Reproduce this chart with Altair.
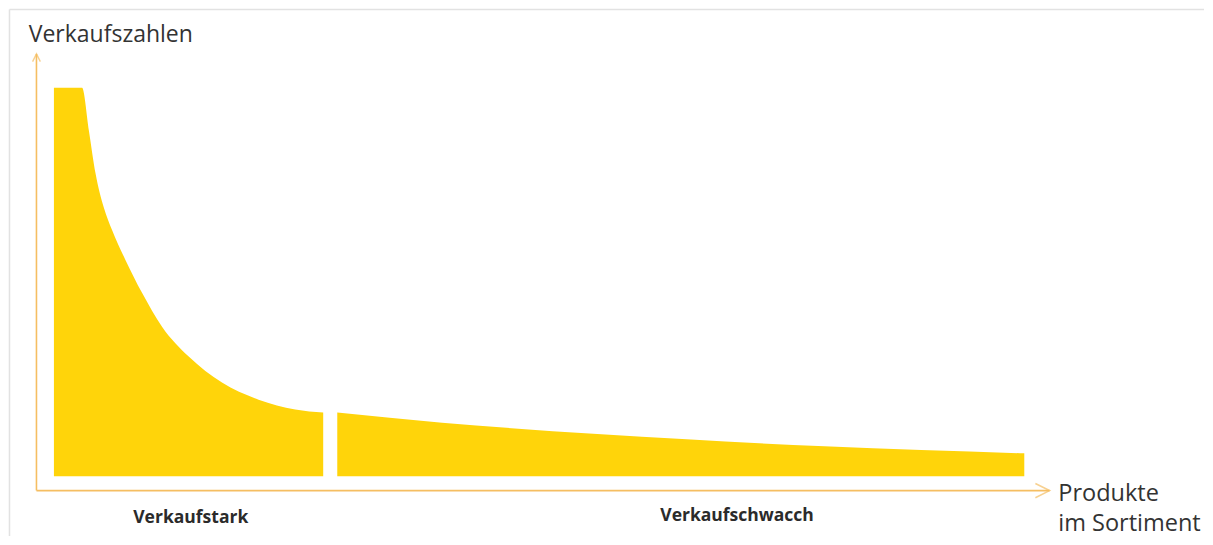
import altair as alt
import pandas as pd

# ---- data ----
strong_rank = [0, 2.9, 3.6, 4.29, 5.14, 6.0, 7.38, 9.08, 11.14, 13.89, 17.32, 21.09, 24.87, 27.75]
strong_sales = [100, 100, 89.0, 77.9, 69.2, 63.3, 55.6, 47.2, 38.5, 30.8, 24.1, 19.7, 17.2, 16.4]
weak_rank = [29.2, 40.0, 65.2, 79.4, 100]
weak_sales = [16.4, 13.8, 9.5, 7.7, 5.9]

axis_origin = (-1.8, -3.7)
x_axis_end = 102.6
y_axis_end = 108.7

title_y = ["Verkaufszahlen"]
title_y_pos = (-2.6, 111.8)
title_x = ["Produkte", "im Sortiment"]
title_x_pos = [(103.5, -6.4), (103.5, -14.1)]
segment_labels = ["Verkaufstark", "Verkaufschwacch"]
segment_label_pos = [(14.1, -12.0), (70.4, -11.5)]

frame_left = -4.58
frame_top = 120.1

X_DOMAIN = [-4.63, 118.52]
Y_DOMAIN = [-15.38, 120.26]
FILL = "#FFD40A"
AXIS_COLOR = "#F5BE62"
FONT = "Open Sans"

xs = alt.Scale(domain=X_DOMAIN, nice=False, zero=False)
ys = alt.Scale(domain=Y_DOMAIN, nice=False, zero=False)

area_df = pd.concat([
    pd.DataFrame({"rank": strong_rank, "sales": strong_sales, "seg": "stark"}),
    pd.DataFrame({"rank": weak_rank, "sales": weak_sales, "seg": "schwach"}),
])

areas = alt.Chart(area_df).mark_area(color=FILL, interpolate="monotone").encode(
    x=alt.X("rank:Q", scale=xs, axis=None),
    y=alt.Y("sales:Q", scale=ys, axis=None),
    y2=alt.datum(0),
    detail="seg:N",
)

axes_df = pd.DataFrame({
    "x": [axis_origin[0], axis_origin[0]],
    "y": [axis_origin[1], axis_origin[1]],
    "x2": [x_axis_end, axis_origin[0]],
    "y2": [axis_origin[1], y_axis_end],
})
axes = alt.Chart(axes_df).mark_rule(color=AXIS_COLOR, strokeWidth=1.6).encode(
    x=alt.X("x:Q", scale=xs, axis=None),
    y=alt.Y("y:Q", scale=ys, axis=None),
    x2="x2:Q",
    y2="y2:Q",
)

frame_df = pd.DataFrame({
    "x": [frame_left, frame_left],
    "y": [Y_DOMAIN[0], frame_top],
    "x2": [frame_left, X_DOMAIN[1]],
    "y2": [frame_top, frame_top],
})
frame = alt.Chart(frame_df).mark_rule(color="#e2e2e2", strokeWidth=1.5).encode(
    x=alt.X("x:Q", scale=xs, axis=None),
    y=alt.Y("y:Q", scale=ys, axis=None),
    x2="x2:Q",
    y2="y2:Q",
)

arrow_r = alt.Chart(pd.DataFrame({"x": [x_axis_end], "y": [axis_origin[1]]})).mark_point(
    shape="M-2,-1L0,0L-2,1", filled=False, stroke=AXIS_COLOR, strokeWidth=1.6, size=200
).encode(x=alt.X("x:Q", scale=xs, axis=None), y=alt.Y("y:Q", scale=ys, axis=None))

arrow_u = alt.Chart(pd.DataFrame({"x": [axis_origin[0]], "y": [y_axis_end]})).mark_point(
    shape="M-1,2L0,0L1,2", filled=False, stroke=AXIS_COLOR, strokeWidth=1.4, size=60
).encode(x=alt.X("x:Q", scale=xs, axis=None), y=alt.Y("y:Q", scale=ys, axis=None))

ty_df = pd.DataFrame({"t": title_y, "x": [title_y_pos[0]], "y": [title_y_pos[1]]})
ty = alt.Chart(ty_df).mark_text(
    align="left", baseline="alphabetic", font=FONT, fontSize=23, color="#333333"
).encode(x=alt.X("x:Q", scale=xs, axis=None), y=alt.Y("y:Q", scale=ys, axis=None), text="t:N")

tx_df = pd.DataFrame({"t": title_x, "x": [p[0] for p in title_x_pos], "y": [p[1] for p in title_x_pos]})
tx = alt.Chart(tx_df).mark_text(
    align="left", baseline="alphabetic", font=FONT, fontSize=23.5, color="#333333"
).encode(x=alt.X("x:Q", scale=xs, axis=None), y=alt.Y("y:Q", scale=ys, axis=None), text="t:N")

sl_df = pd.DataFrame({"t": segment_labels, "x": [p[0] for p in segment_label_pos], "y": [p[1] for p in segment_label_pos]})
sl = alt.Chart(sl_df).mark_text(
    align="center", baseline="alphabetic", font=FONT, fontSize=17.5, fontWeight="bold", color="#2b2b2b"
).encode(x=alt.X("x:Q", scale=xs, axis=None), y=alt.Y("y:Q", scale=ys, axis=None), text="t:N")

chart = alt.layer(frame, areas, axes, arrow_r, arrow_u, ty, tx, sl).properties(
    width=1197, height=529, padding=0,
    autosize=alt.AutoSizeParams(type="fit", contains="padding"),
    background="white",
).configure_view(strokeWidth=0)

chart.save("out.html", embed_options={"renderer": "svg", "actions": False})
